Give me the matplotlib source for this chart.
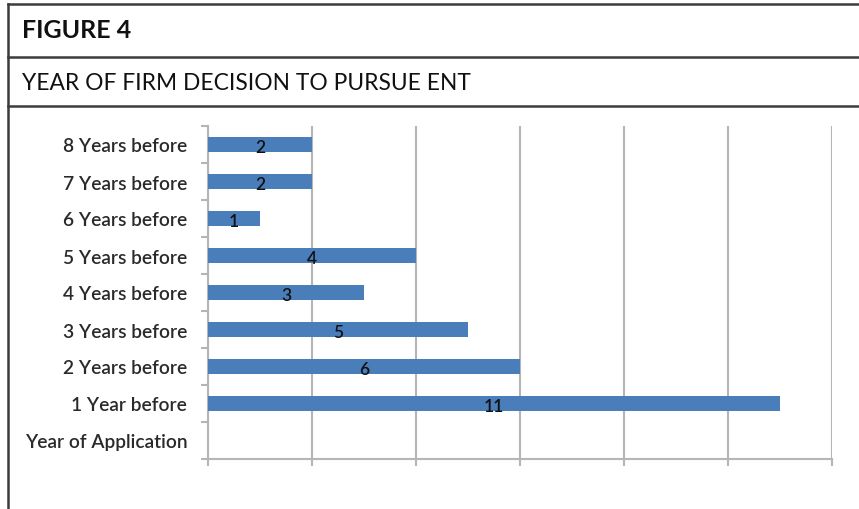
import numpy as np
import matplotlib
matplotlib.use('Agg')
import matplotlib.pyplot as plt
from matplotlib.lines import Line2D

# data (top to bottom as in the figure)
categories = ['8 Years before', '7 Years before', '6 Years before', '5 Years before',
              '4 Years before', '3 Years before', '2 Years before', '1 Year before',
              'Year of Application']
counts = [2, 2, 1, 4, 3, 5, 6, 11, 0]
x_ticks = [0, 2, 4, 6, 8, 10, 12]

plt.rcParams['font.family'] = ['Lato', 'DejaVu Sans']

W, H = 859, 510
fig = plt.figure(figsize=(W / 100, H / 100), dpi=100)

# frame lines of the figure box
frame_col = '#3c3c3c'
for y in [5, 58, 107]:
    fig.add_artist(Line2D([8 / W, 1.0], [1 - y / H, 1 - y / H], color=frame_col, lw=1.8,
                          transform=fig.transFigure))
fig.add_artist(Line2D([8 / W, 8 / W], [1 - 5 / H, 0], color=frame_col, lw=1.8,
                      transform=fig.transFigure))

fig.text(22 / W, 1 - 31 / H, 'FIGURE 4', fontsize=18, fontweight='bold', va='center', ha='left',
         color='#111111')
fig.text(22 / W, 1 - 83 / H, 'YEAR OF FIRM DECISION TO PURSUE ENT', fontsize=16.4,
         va='center', ha='left', color='#111111')

ax = fig.add_axes([208 / W, 1 - 460 / H, (832 - 208) / W, (460 - 127) / H])
y = np.arange(len(categories))
ax.barh(y, counts, height=0.38, color='#4a7ebb', zorder=3)
for yi, c in zip(y, counts):
    if c > 0:
        ax.text(c / 2, yi + 0.08, str(c), ha='center', va='center', fontsize=12.5,
                fontweight='semibold', color='#111111', zorder=4)

ax.set_xlim(0, 12)
ax.set_ylim(len(categories) - 0.5, -0.5)
ax.set_xticks(x_ticks)
ax.set_xticklabels([])
ax.xaxis.grid(True, color='#b5b5b5', lw=1.5, zorder=0)
ax.tick_params(axis='x', direction='out', length=5, width=1.5, color='#b5b5b5')

ax.set_yticks(y)
ax.set_yticklabels(categories, fontsize=13.8, fontweight='semibold', color='#2a2a2a')
ax.set_yticks(np.arange(-0.5, len(categories)), minor=True)
ax.tick_params(axis='y', which='major', length=0, pad=15)
ax.tick_params(axis='y', which='minor', direction='out', length=5, width=1.5, color='#b5b5b5')

for s in ['top', 'right']:
    ax.spines[s].set_visible(False)
for s in ['left', 'bottom']:
    ax.spines[s].set_color('#b5b5b5')
    ax.spines[s].set_linewidth(1.5)

fig.savefig('out.png', dpi=100)
